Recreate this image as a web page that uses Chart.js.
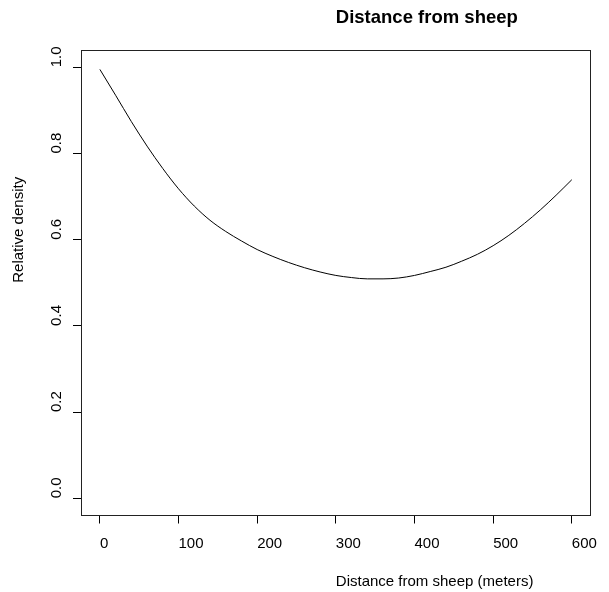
<!DOCTYPE html>
<html>
<head>
<meta charset="utf-8">
<title>Distance from sheep</title>
<script src="https://cdn.jsdelivr.net/npm/chart.js@4/dist/chart.umd.min.js"></script>
<style>
    body { margin: 0; background: #fff; }
    canvas { display: block; }
</style>
</head>
<body>
<canvas id="chart" width="609" height="592"></canvas>
<script>
// values
let distance = [0, 20, 40, 60, 80, 100, 120, 140, 160, 180, 200, 220, 240, 260, 280, 300,
    320, 340, 360, 380, 400, 420, 440, 460, 480, 500, 520, 540, 560, 580, 600];
let density = [0.995, 0.935, 0.874, 0.817, 0.765, 0.718, 0.678, 0.645, 0.619, 0.597, 0.577,
    0.561, 0.547, 0.535, 0.525, 0.517, 0.512, 0.509, 0.509, 0.511, 0.517, 0.526, 0.536,
    0.550, 0.566, 0.586, 0.610, 0.638, 0.669, 0.703, 0.739];
let xTicks = [0, 100, 200, 300, 400, 500, 600];
let yTicks = [0.0, 0.2, 0.4, 0.6, 0.8, 1.0];

let mainTitle = 'Distance from sheep';
let xTitle = 'Distance from sheep (meters)';
let yTitle = 'Relative density';

let fontFamily = '"Liberation Sans", Arial, sans-serif';
Chart.defaults.font.family = fontFamily;
Chart.defaults.color = '#000';

// R style: text starts at the plot centre instead of being centred on it
let rTextPlugin = {
    id: 'rText',
    afterDraw: (chart) => {
        let ctx = chart.ctx;
        let area = chart.chartArea;
        let midX = (area.left + area.right) / 2;
        let midY = (area.top + area.bottom) / 2;
        ctx.save();
        ctx.fillStyle = '#000';
        ctx.textAlign = 'left';
        ctx.textBaseline = 'middle';

        ctx.font = 'bold 18.5px ' + fontFamily;
        ctx.fillText(mainTitle, midX, 18);

        ctx.font = '15px ' + fontFamily;
        ctx.fillText(xTitle, midX, area.bottom + 66.5);

        ctx.translate(19, midY);
        ctx.rotate(-Math.PI / 2);
        ctx.fillText(yTitle, 0, 0);
        ctx.restore();
    }
};

let boxAxis = (position) => {
    return {
        position: position,
        display: true,
        grid: { display: false },
        ticks: { display: false },
        border: { display: true, color: '#222', width: 1 },
        afterFit: (scale) => {
            if (position === 'top') scale.height = 0;
            else scale.width = 0;
        }
    };
};

new Chart(document.getElementById('chart').getContext('2d'), {
    type: 'line',
    data: {
        datasets: [{
            label: 'Relative density',
            data: distance.map((d, i) => ({ x: d, y: density[i] })),
            borderColor: '#000',
            borderWidth: 1,
            pointRadius: 0,
            cubicInterpolationMode: 'monotone',
            fill: false
        }]
    },
    options: {
        responsive: false,
        animation: false,
        layout: {
            padding: { left: 0, top: 50, right: 7, bottom: 0 }
        },
        plugins: {
            legend: { display: false },
            title: { display: false },
            tooltip: { enabled: false }
        },
        scales: {
            x: {
                type: 'linear',
                position: 'bottom',
                min: -24,
                max: 624,
                afterBuildTicks: (scale) => {
                    scale.ticks = xTicks.map(v => ({ value: v }));
                },
                ticks: {
                    align: 'start',
                    padding: 11.5,
                    autoSkip: false,
                    maxRotation: 0,
                    font: { size: 15 },
                    callback: (v) => String(v)
                },
                grid: {
                    drawOnChartArea: false,
                    drawTicks: true,
                    tickLength: 8,
                    color: '#000'
                },
                border: { display: true, color: '#222', width: 1 },
                afterFit: (scale) => { scale.height = 76.5; }
            },
            y: {
                type: 'linear',
                position: 'left',
                min: -0.04,
                max: 1.04,
                afterBuildTicks: (scale) => {
                    scale.ticks = yTicks.map(v => ({ value: v }));
                },
                ticks: {
                    minRotation: 90,
                    maxRotation: 90,
                    crossAlign: 'center',
                    padding: 5.6,
                    labelOffset: -10.4,
                    autoSkip: false,
                    font: { size: 15 },
                    callback: (v) => v.toFixed(1)
                },
                grid: {
                    drawOnChartArea: false,
                    drawTicks: true,
                    tickLength: 8,
                    color: '#000'
                },
                border: { display: true, color: '#222', width: 1 },
                afterFit: (scale) => { scale.width = 81; }
            },
            x2: Object.assign(boxAxis('top'), { axis: 'x', type: 'linear', min: -24, max: 624 }),
            y2: Object.assign(boxAxis('right'), { axis: 'y', type: 'linear', min: -0.04, max: 1.04 })
        }
    },
    plugins: [rTextPlugin]
});
</script>
</body>
</html>
